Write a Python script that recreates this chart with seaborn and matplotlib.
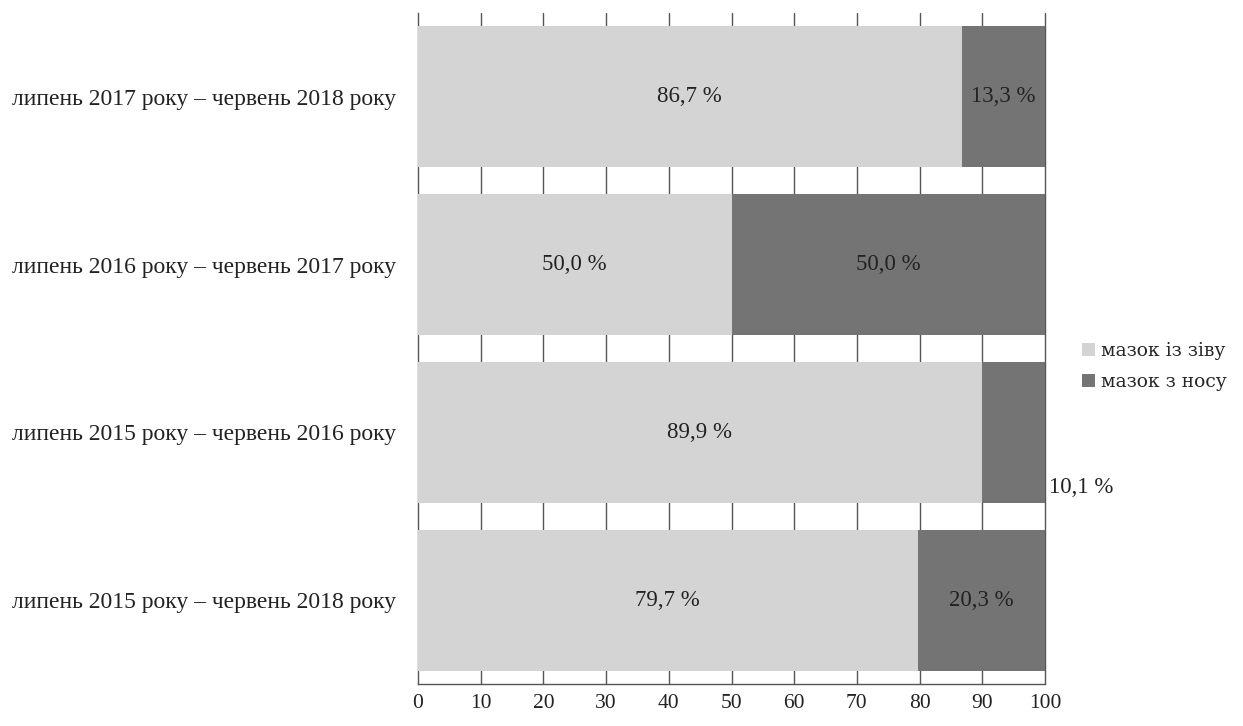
import numpy as np
import pandas as pd
import matplotlib
matplotlib.use("Agg")
import matplotlib.pyplot as plt
import seaborn as sns
from matplotlib.ticker import FixedLocator
from matplotlib.patches import Patch

# дані
periods = ["липень 2017 року – червень 2018 року",
           "липень 2016 року – червень 2017 року",
           "липень 2015 року – червень 2016 року",
           "липень 2015 року – червень 2018 року"]
throat = [86.7, 50.0, 89.9, 79.7]   # мазок із зіву
nose = [13.3, 50.0, 10.1, 20.3]     # мазок з носу
series_names = ["мазок із зіву", "мазок з носу"]

light_c = "#d4d4d4"
dark_c = "#747474"
txt_c = "#222222"

sns.set_theme(style="white")
plt.rcParams['font.family'] = ['Liberation Serif', 'DejaVu Serif']

df = pd.DataFrame({"period": periods, "throat": throat, "nose": nose})
df["total"] = df["throat"] + df["nose"]

fig = plt.figure(figsize=(12.43, 7.26), dpi=100)
ax = fig.add_axes([0.3363, 0.0579, 0.5044, 0.9242])

# вертикальна сітка позаду стовпців
for v in range(10, 101, 10):
    ax.axvline(v, color="#555555", lw=1.0, zorder=0, clip_on=False)

sns.barplot(data=df, x="total", y="period", order=periods, color=dark_c,
            width=0.84, saturation=1, linewidth=0, ax=ax, zorder=2)
sns.barplot(data=df, x="throat", y="period", order=periods, color=light_c,
            width=0.84, saturation=1, linewidth=0, ax=ax, zorder=3)

# підписи
fmt = lambda v: f"{v:.1f} %".replace(".", ",")
for i, (a, b) in enumerate(zip(throat, nose)):
    ax.text(a / 2, i, fmt(a), ha="center", va="center",
            fontsize=16.5, color=txt_c, zorder=5)
    if b < 12:
        ax.text(a + b + 0.6, i + 0.33, fmt(b), ha="left",
                va="center", fontsize=16.5, color=txt_c, zorder=5, clip_on=False)
    else:
        ax.text(a + b / 2, i, fmt(b), ha="center",
                va="center", fontsize=16.5, color=txt_c, zorder=5)

ax.set_xlim(0, 100)
ax.set_ylim(3.5, -0.5)
ax.set_xticks(range(0, 101, 10))
ax.set_xlabel("")
ax.set_ylabel("")
ax.tick_params(axis="x", labelsize=15.5, length=10, width=1, color="#555555",
               direction="inout", pad=2, labelcolor=txt_c)
ax.tick_params(axis="y", which="major", length=0, labelsize=17, pad=16,
               labelcolor=txt_c)
ax.yaxis.set_minor_locator(FixedLocator([-0.5, 0.5, 1.5, 2.5, 3.5]))
ax.tick_params(axis="y", which="minor", length=6, width=1, color="#555555",
               direction="out")

for s in ["top", "right"]:
    ax.spines[s].set_visible(False)
for s in ["left", "bottom"]:
    ax.spines[s].set_color("#555555")
    ax.spines[s].set_linewidth(1)

handles = [Patch(facecolor=light_c, edgecolor="none"),
           Patch(facecolor=dark_c, edgecolor="none")]
fig.legend(handles, series_names, loc="center left", bbox_to_anchor=(0.857, 0.495),
           frameon=False, prop={"family": ["DejaVu Serif"], "size": 13.5},
           handlelength=0.7, handleheight=0.7, handletextpad=0.3,
           labelspacing=0.7)

fig.savefig("out.png", dpi=100)
